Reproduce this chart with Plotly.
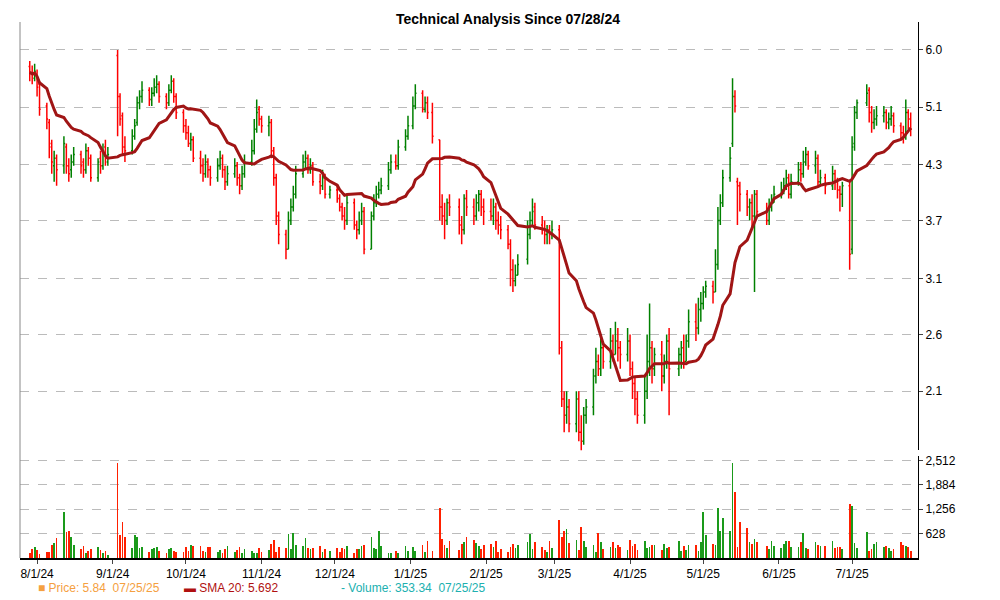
import pandas as pd
import plotly.graph_objects as go

holidays = ["2024-09-02", "2024-11-28", "2024-12-25", "2025-01-01", "2025-01-09", "2025-01-20",
            "2025-02-17", "2025-04-18", "2025-05-26", "2025-06-19", "2025-07-04"]
dates = [d for d in pd.bdate_range("2024-07-29", "2025-07-25") if d.strftime("%Y-%m-%d") not in holidays]

close = [5.60, 5.55, 5.62,
 5.35, 5.00, 4.85, 4.45, 4.25, 4.30, 4.15, 4.50, 4.20, 4.10, 4.25, 4.35, 4.20, 4.15, 4.40, 4.30, 4.05, 4.25, 4.20, 4.40, 4.30, 4.35,
 5.20, 4.85, 4.45, 4.40, 4.60, 4.75, 5.10, 5.20, 5.30, 5.15, 5.25, 5.35, 5.40, 5.20, 5.10, 5.30, 5.45, 5.20, 4.95, 4.75,
 4.65, 4.50, 4.55, 4.30, 4.20, 4.10, 4.25, 4.15, 4.05, 4.20, 4.30, 4.15, 4.00, 4.10, 4.20, 4.05, 3.95, 4.10, 4.25, 4.40, 4.70, 4.95, 4.85,
 4.75, 4.80, 4.40, 4.05, 3.60, 3.40, 3.25, 3.55, 3.70, 3.85, 4.10, 4.25, 4.30, 4.15, 4.20, 4.00, 3.95, 4.05, 3.85, 3.90,
 3.80, 3.70, 3.60, 3.55, 3.75, 3.50, 3.45, 3.55, 3.65, 3.25, 3.60, 3.75, 3.85, 3.90, 3.95, 4.15, 4.25, 4.20, 4.45, 4.60, 4.75,
 5.05, 5.25, 5.00, 5.10, 4.95, 4.60, 3.70, 3.60, 3.55, 3.75, 3.70, 3.50, 3.45, 3.80, 3.70, 3.60, 3.75, 3.85, 3.70, 3.65,
 3.60, 3.70, 3.55, 3.50, 3.45, 3.30, 3.05, 2.95, 3.00, 3.10, 3.40, 3.55, 3.65, 3.50, 3.45, 3.40, 3.45, 3.40, 3.45,
 2.40, 2.05, 1.95, 2.00, 1.90, 2.05, 1.85, 1.80, 1.95, 2.00, 2.20, 2.30, 2.25, 2.40, 2.30, 2.45, 2.35, 2.45, 2.40, 2.35, 2.45,
 2.25, 2.15, 2.05, 1.95, 2.10, 2.30, 2.40, 2.25, 2.35, 2.20, 2.30, 2.45, 2.25, 2.35, 2.40, 2.30, 2.45, 2.60, 2.55, 2.70, 2.75,
 2.85, 2.90, 2.85, 3.10, 3.55, 3.75, 4.05, 4.30, 5.20, 5.05, 3.95, 3.85, 3.70, 3.75, 3.60, 3.85, 3.65, 3.55, 3.70, 3.75, 3.85,
 3.90, 3.95, 4.05, 3.85, 4.00, 4.15, 4.10, 4.25, 4.35, 4.20, 4.30, 4.00, 4.05, 3.95, 4.10, 4.00, 3.90, 3.85, 3.95, 3.20,
 4.45, 4.95, 5.10, 5.25, 4.95, 4.80, 4.85, 4.90, 4.95, 4.80, 4.85, 4.90, 4.75, 4.65, 4.60, 4.95, 4.85, 4.70]

open_ = [5.70, 5.58, 5.50,
 5.55, 5.40, 5.05, 4.80, 4.50, 4.20, 4.30, 4.20, 4.45, 4.20, 4.15, 4.25, 4.35, 4.25, 4.15, 4.40, 4.30, 4.05, 4.30, 4.20, 4.45, 4.25,
 5.90, 5.20, 4.90, 4.45, 4.40, 4.60, 4.80, 5.10, 5.20, 5.30, 5.15, 5.25, 5.35, 5.40, 5.20, 5.10, 5.30, 5.45, 5.20, 4.95,
 4.75, 4.65, 4.50, 4.55, 4.30, 4.20, 4.10, 4.25, 4.15, 4.05, 4.20, 4.30, 4.15, 4.00, 4.10, 4.20, 4.05, 3.95, 4.10, 4.25, 4.40, 4.70, 5.00,
 4.85, 4.75, 4.80, 4.40, 4.05, 3.60, 3.40, 3.25, 3.55, 3.70, 3.85, 4.10, 4.25, 4.30, 4.15, 4.20, 4.00, 3.95, 4.05, 3.85,
 3.90, 3.80, 3.70, 3.60, 3.55, 3.75, 3.50, 3.45, 3.55, 3.65, 3.25, 3.60, 3.75, 3.85, 3.90, 3.95, 4.15, 4.25, 4.20, 4.45, 4.60,
 4.75, 5.05, 5.25, 5.00, 5.10, 4.95, 4.55, 3.70, 3.60, 3.55, 3.75, 3.70, 3.50, 3.45, 3.80, 3.70, 3.60, 3.75, 3.85, 3.70,
 3.65, 3.60, 3.70, 3.55, 3.50, 3.45, 3.30, 3.05, 2.95, 3.00, 3.15, 3.40, 3.55, 3.70, 3.50, 3.45, 3.40, 3.45, 3.40,
 3.45, 2.40, 2.05, 1.95, 2.00, 1.90, 2.05, 1.85, 1.80, 1.95, 2.00, 2.20, 2.30, 2.25, 2.40, 2.30, 2.45, 2.35, 2.45, 2.40, 2.35,
 2.45, 2.25, 2.15, 2.05, 1.95, 2.10, 2.30, 2.40, 2.25, 2.35, 2.20, 2.30, 2.45, 2.25, 2.35, 2.40, 2.30, 2.45, 2.60, 2.55, 2.70,
 2.75, 2.85, 2.90, 2.85, 3.10, 3.55, 3.75, 4.05, 4.50, 5.20, 4.00, 3.95, 3.85, 3.70, 3.75, 3.60, 3.85, 3.65, 3.55, 3.70, 3.75,
 3.85, 3.90, 3.95, 4.05, 3.85, 4.00, 4.15, 4.10, 4.25, 4.35, 4.20, 4.30, 4.00, 4.05, 3.95, 4.10, 4.00, 3.90, 3.85, 3.95,
 3.25, 4.50, 4.95, 5.10, 5.30, 4.95, 4.80, 4.85, 4.90, 4.95, 4.80, 4.85, 4.90, 4.75, 4.65, 4.60, 4.95, 4.85]

high = [5.80, 5.72, 5.75,
 5.65, 5.45, 5.10, 4.85, 4.55, 4.40, 4.35, 4.60, 4.50, 4.30, 4.35, 4.45, 4.40, 4.30, 4.50, 4.45, 4.35, 4.30, 4.40, 4.50, 4.55, 4.45,
 6.00, 5.25, 4.95, 4.60, 4.70, 4.85, 5.20, 5.30, 5.45, 5.35, 5.35, 5.50, 5.55, 5.45, 5.25, 5.40, 5.55, 5.50, 5.25, 5.00,
 4.85, 4.75, 4.65, 4.60, 4.40, 4.30, 4.35, 4.30, 4.20, 4.30, 4.40, 4.35, 4.20, 4.20, 4.30, 4.25, 4.10, 4.20, 4.35, 4.55, 4.85, 5.15, 5.05,
 4.90, 4.90, 4.85, 4.45, 4.10, 3.65, 3.45, 3.65, 3.80, 3.95, 4.20, 4.35, 4.40, 4.35, 4.30, 4.25, 4.10, 4.15, 4.10, 3.95,
 3.95, 3.85, 3.75, 3.70, 3.85, 3.80, 3.55, 3.65, 3.75, 3.70, 3.65, 3.85, 3.95, 4.00, 4.05, 4.25, 4.35, 4.35, 4.55, 4.70, 4.90,
 5.20, 5.40, 5.30, 5.20, 5.20, 5.10, 4.55, 3.85, 3.75, 3.80, 3.85, 3.80, 3.60, 3.85, 3.90, 3.80, 3.85, 3.90, 3.90, 3.80,
 3.80, 3.80, 3.75, 3.65, 3.60, 3.50, 3.35, 3.15, 3.10, 3.20, 3.55, 3.65, 3.80, 3.75, 3.60, 3.55, 3.50, 3.50, 3.55,
 3.50, 2.45, 2.10, 2.10, 2.05, 2.10, 2.10, 1.95, 2.00, 2.05, 2.25, 2.40, 2.35, 2.50, 2.45, 2.55, 2.50, 2.60, 2.55, 2.45, 2.55,
 2.50, 2.30, 2.20, 2.10, 2.20, 2.50, 2.75, 2.45, 2.40, 2.45, 2.35, 2.50, 2.55, 2.40, 2.45, 2.50, 2.50, 2.70, 2.75, 2.80, 2.85,
 2.90, 2.95, 2.95, 3.25, 3.70, 3.85, 4.15, 4.45, 5.50, 5.30, 4.05, 4.00, 3.90, 3.80, 3.85, 3.90, 3.90, 3.75, 3.80, 3.85, 3.95,
 4.00, 4.05, 4.15, 4.10, 4.10, 4.25, 4.25, 4.40, 4.45, 4.40, 4.40, 4.35, 4.15, 4.10, 4.20, 4.15, 4.05, 3.95, 4.00, 4.00,
 4.60, 5.05, 5.15, 5.40, 5.35, 5.05, 5.00, 5.05, 5.05, 5.00, 4.95, 5.05, 4.95, 4.80, 4.75, 5.15, 5.00, 4.95]

low = [5.45, 5.40, 5.45,
 5.20, 4.90, 4.70, 4.30, 4.10, 4.00, 3.95, 4.10, 4.10, 4.00, 4.05, 4.20, 4.10, 4.05, 4.10, 4.20, 4.00, 4.00, 4.10, 4.15, 4.20, 4.20,
 4.60, 4.75, 4.35, 4.25, 4.35, 4.55, 4.75, 5.00, 5.10, 5.05, 5.05, 5.20, 5.25, 5.10, 5.00, 5.05, 5.25, 5.10, 4.85, 4.65,
 4.55, 4.45, 4.40, 4.25, 4.10, 4.00, 4.05, 4.05, 3.95, 4.00, 4.15, 4.05, 3.90, 3.95, 4.05, 3.95, 3.85, 3.90, 4.05, 4.20, 4.35, 4.65, 4.75,
 4.65, 4.60, 4.30, 3.95, 3.50, 3.30, 3.15, 3.25, 3.50, 3.65, 3.80, 4.05, 4.15, 4.10, 4.10, 3.95, 3.85, 3.90, 3.80, 3.80,
 3.75, 3.65, 3.55, 3.45, 3.50, 3.45, 3.35, 3.40, 3.50, 3.20, 3.25, 3.55, 3.70, 3.80, 3.85, 3.90, 4.10, 4.15, 4.15, 4.40, 4.55,
 4.70, 5.00, 4.95, 4.95, 4.85, 4.50, 3.55, 3.50, 3.35, 3.50, 3.60, 3.40, 3.30, 3.40, 3.60, 3.50, 3.55, 3.65, 3.60, 3.50,
 3.55, 3.50, 3.45, 3.40, 3.35, 3.25, 2.90, 2.85, 2.90, 3.00, 3.10, 3.35, 3.50, 3.45, 3.40, 3.30, 3.30, 3.30, 3.35,
 2.35, 2.00, 1.85, 1.90, 1.85, 1.85, 1.80, 1.75, 1.78, 1.90, 1.95, 2.15, 2.20, 2.20, 2.25, 2.25, 2.30, 2.35, 2.30, 2.25, 2.30,
 2.20, 2.05, 1.95, 1.90, 1.90, 2.05, 2.20, 2.15, 2.20, 2.10, 2.15, 2.25, 1.95, 2.20, 2.25, 2.25, 2.30, 2.40, 2.45, 2.50, 2.60,
 2.70, 2.80, 2.75, 2.85, 3.05, 3.50, 3.70, 4.00, 4.45, 4.95, 3.50, 3.65, 3.60, 3.55, 3.45, 2.85, 3.60, 3.50, 3.50, 3.65, 3.75,
 3.80, 3.85, 3.90, 3.80, 3.80, 3.95, 4.00, 4.05, 4.20, 4.15, 4.10, 3.95, 3.95, 3.85, 3.90, 3.90, 3.80, 3.65, 3.70, 3.05,
 3.20, 4.40, 4.85, 5.05, 4.80, 4.65, 4.70, 4.75, 4.80, 4.70, 4.70, 4.75, 4.65, 4.55, 4.50, 4.55, 4.70, 4.60]

volume = [150, 250, 300,
 220, 120, 170, 170, 350, 400, 520, 1200, 680, 700, 560, 350, 250, 320, 130, 200, 250, 300, 220, 140, 180, 80,
 2450, 600, 950, 550, 280, 600, 550, 280, 300, 170, 250, 270, 300, 180, 150, 250, 280, 200, 160, 170,
 300, 180, 350, 310, 320, 200, 160, 300, 300, 160, 210, 150, 250, 320, 170, 220, 300, 140, 250, 200, 150, 150, 280,
 170, 220, 370, 470, 170, 300, 280, 620, 250, 660, 350, 320, 520, 280, 240, 270, 310, 170, 240, 180,
 280, 170, 270, 250, 310, 130, 230, 230, 330, 340, 550, 260, 230, 700, 320, 150, 130, 200, 150, 320, 190,
 300, 180, 350, 160, 450, 180, 1300, 500, 340, 280, 450, 210, 360, 430, 560, 480, 400, 310, 230, 350,
 380, 300, 440, 160, 250, 170, 300, 370, 280, 350, 420, 620, 250, 430, 300, 220, 160, 450, 280,
 1000, 560, 700, 750, 390, 470, 220, 800, 460, 300, 350, 170, 650, 420, 240, 300, 430, 260, 350, 300, 220,
 480, 310, 370, 220, 440, 260, 300, 350, 340, 220, 380, 260, 300, 460, 200, 310, 210, 350, 340, 190, 410,
 1200, 600, 380, 350, 1300, 700, 1050, 700, 2450, 1700, 300, 950, 780, 420, 380, 500, 410, 330, 240, 450, 310,
 260, 380, 450, 440, 300, 290, 420, 650, 280, 230, 410, 350, 330, 330, 460, 260, 300, 300, 250, 1400,
 1350, 400, 280, 680, 200, 250, 380, 430, 300, 330, 280, 200, 250, 420, 350, 330, 300, 200]

price_ticks = [2.1, 2.5, 2.97, 3.55, 4.22, 5.03, 6.0]
price_labels = ["2.1", "2.6", "3.1", "3.7", "4.3", "5.1", "6.0"]
vol_ticks = [628, 1256, 1884, 2512]
x_ticks = ["2024-08-01", "2024-09-01", "2024-10-01", "2024-11-01", "2024-12-01", "2025-01-01",
           "2025-02-01", "2025-03-01", "2025-04-01", "2025-05-01", "2025-06-01", "2025-07-01"]
x_labels = ["8/1/24", "9/1/24", "10/1/24", "11/1/24", "12/1/24", "1/1/25",
            "2/1/25", "3/1/25", "4/1/25", "5/1/25", "6/1/25", "7/1/25"]

n = min(len(dates), len(close), len(open_), len(high), len(low), len(volume))
dates = dates[:n]
df = pd.DataFrame({"d": dates, "o": open_[:n], "h": high[:n], "l": low[:n], "c": close[:n], "v": volume[:n]})
df["sma"] = df["c"].rolling(20, min_periods=1).mean()
vcol = ["#1a9a1a" if c >= o else "#ff2000" for o, c in zip(df.o, df.c)]

fig = go.Figure()
fig.add_trace(go.Ohlc(x=df.d, open=df.o, high=df.h, low=df.l, close=df.c, yaxis="y", xaxis="x",
                      increasing=dict(line=dict(color="#008000", width=1.5)),
                      decreasing=dict(line=dict(color="#ff0000", width=1.5)), tickwidth=0.5))
fig.add_trace(go.Scatter(x=df.d, y=df.sma, mode="lines", line=dict(color="#a01515", width=3), yaxis="y", xaxis="x"))
fig.add_trace(go.Bar(x=df.d, y=df.v, marker=dict(color=vcol, line=dict(width=0)), width=86400000 * 0.3,
                     yaxis="y2", xaxis="x"))

fig.update_layout(
    width=1000, height=600, showlegend=False, plot_bgcolor="white", paper_bgcolor="white",
    margin=dict(l=12, r=90, t=12, b=50),
    font=dict(family="Liberation Sans, Arial", size=12, color="#000"),
    title=dict(text="<b>Technical Analysis Since 07/28/24</b>", x=0.5, xanchor="center", y=0.99, yanchor="top",
               font=dict(size=14)),
    xaxis=dict(type="date", range=["2024-07-25", "2025-07-28"], tickvals=x_ticks, ticktext=x_labels,
               rangeslider=dict(visible=False), showgrid=False, ticks="outside", ticklen=4,
               showline=True, linecolor="#000", linewidth=2, anchor="y2"),
    yaxis=dict(type="log", domain=[0.2007, 1.0], range=[0.243, 0.8155], side="right",
               tickvals=price_ticks, ticktext=price_labels, showgrid=True, gridcolor="#bbbbbb",
               griddash="dash", ticks="outside", ticklen=4, showline=True, linecolor="#000", zeroline=False),
    yaxis2=dict(domain=[0, 0.191], range=[0, 2640], side="right", tickvals=vol_ticks,
                tickformat=",", showgrid=True, gridcolor="#bbbbbb", griddash="dash", ticks="outside",
                ticklen=4, showline=True, linecolor="#000", zeroline=False),
    bargap=0,
)
fig.add_shape(type="line", xref="paper", yref="paper", x0=0, x1=0, y0=0, y1=1, line=dict(color="#888", width=1))
legend = [(0.018, "■ Price: 5.84  07/25/25", "#f5a040"),
          (0.18, "▬ SMA 20: 5.692", "#b01010"),
          (0.355, "- Volume: 353.34  07/25/25", "#20b0b0")]
for x, t, c in legend:
    fig.add_annotation(text=t, x=x, y=-0.056, xref="paper", yref="paper", xanchor="left", yanchor="middle",
                       showarrow=False, font=dict(size=12, color=c))
fig.write_html("out.html")
